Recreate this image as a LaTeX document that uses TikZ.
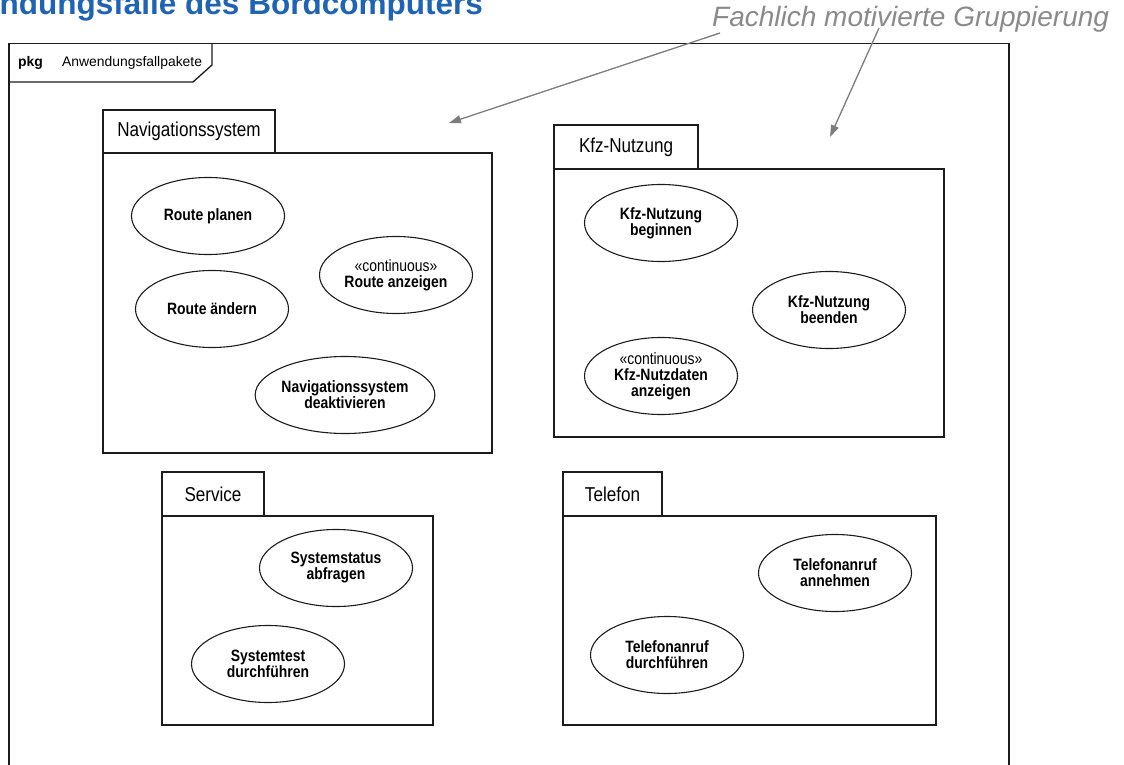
\documentclass[tikz,border=0pt]{standalone}
\usepackage{fontspec}
\setmainfont{Liberation Sans}
\newfontfamily\dfont[FakeStretch=0.85]{Liberation Sans}
\usetikzlibrary{shapes.geometric,arrows.meta}

\definecolor{titleblue}{RGB}{31,99,181}
\definecolor{notegray}{RGB}{138,138,138}
\definecolor{arrowgray}{RGB}{125,125,125}
\definecolor{ink}{RGB}{28,28,28}

\begin{document}
\begin{tikzpicture}[x=1pt,y=-1pt,
  usecase/.style={ellipse, draw=ink, line width=1.1pt, minimum width=153pt,
    minimum height=77pt, inner sep=0pt, outer sep=0pt, align=center,
    font=\dfont\fontsize{16.4}{16}\selectfont\bfseries},
  stereo/.style={font=\dfont\fontsize{16.4}{16}\selectfont\mdseries},
  pkgtab/.style={rectangle, draw=ink, line width=1.3pt, inner sep=0pt,
    outer sep=0pt, anchor=north west, minimum height=43pt,
    font=\dfont\fontsize{20.1}{22}\selectfont},
  pkgbody/.style={rectangle, draw=ink, line width=1.3pt, inner sep=0pt,
    outer sep=0pt, anchor=north west},
  frameline/.style={draw=ink, line width=1.7pt},
  hint/.style={-{Triangle[length=12pt,width=8pt]}, draw=arrowgray,
    fill=arrowgray, line width=1.3pt, shorten <=0pt}
]
\useasboundingbox (0,0) rectangle (1124,765);
\clip (0,0) rectangle (1124,765);

% slide title and annotation
\node[anchor=base east, inner sep=0pt, text=titleblue,
      font=\fontsize{31.5}{36}\selectfont\bfseries] (title) at (483,15)
      {Anwendungsfälle des Bordcomputers};
\node[anchor=base west, inner sep=0pt, text=notegray,
      font=\fontsize{28}{32}\selectfont\itshape] (note) at (712,27)
      {Fachlich motivierte Gruppierung};

% package diagram frame
\draw[frameline] (9,800) -- (9,43.5) -- (1009,43.5) -- (1009,800);
\draw[draw=ink, line width=1.3pt] (9,82) -- (193,82) -- (212,65) -- (212,43.5);
\node[anchor=base west, inner sep=0pt, font=\fontsize{13.9}{16}\selectfont\bfseries]
  (pkgkw) at (18,67) {pkg};
\node[anchor=base west, inner sep=0pt, font=\fontsize{13.9}{16}\selectfont]
  (pkgname) at (62,67) {Anwendungsfallpakete};

% Navigationssystem
\node[pkgtab, minimum width=172pt] (navtab) at (103,110) {Navigationssystem};
\node[pkgbody, minimum width=389pt, minimum height=300pt] (navbody) at (103,153) {};
\node[usecase] (planen) at (208,216) {Route planen};
\node[usecase] (aendern) at (212,309) {Route ändern};
\node[usecase] (anzeigen) at (396,275) {{\mdseries«continuous»}\\Route anzeigen};
\node[usecase] (deakt) at (345,395) {Navigationssystem\\deaktivieren};

% Kfz-Nutzung
\node[pkgtab, minimum width=144pt, minimum height=44pt] (kfztab) at (554,125) {Kfz-Nutzung};
\node[pkgbody, minimum width=390pt, minimum height=268pt] (kfzbody) at (554,169) {};
\node[usecase] (beginnen) at (661,223) {Kfz-Nutzung\\beginnen};
\node[usecase] (beenden) at (829,310) {Kfz-Nutzung\\beenden};
\node[usecase] (nutzdaten) at (661,376) {{\mdseries«continuous»}\\Kfz-Nutzdaten\\anzeigen};

% Service
\node[pkgtab, minimum width=102pt, minimum height=44pt] (servtab) at (162,472) {Service};
\node[pkgbody, minimum width=271pt, minimum height=209pt] (servbody) at (162,516) {};
\node[usecase] (status) at (336,568) {Systemstatus\\abfragen};
\node[usecase] (test) at (268,664) {Systemtest\\durchführen};

% Telefon
\node[pkgtab, minimum width=99pt, minimum height=44pt] (teltab) at (563,472) {Telefon};
\node[pkgbody, minimum width=373pt, minimum height=209pt] (telbody) at (563,516) {};
\node[usecase] (annehmen) at (835,573) {Telefonanruf\\annehmen};
\node[usecase] (anrufen) at (667,655) {Telefonanruf\\durchführen};

% pointers from the annotation to the groups
\coordinate (hintA) at (720,33);
\coordinate (hintB) at (879,28);
\coordinate (navmark) at (449,123);
\coordinate (kfzmark) at (830,137);
\draw[hint] (hintA) -- (navmark);
\draw[hint] (hintB) -- (kfzmark);
\end{tikzpicture}
\end{document}
